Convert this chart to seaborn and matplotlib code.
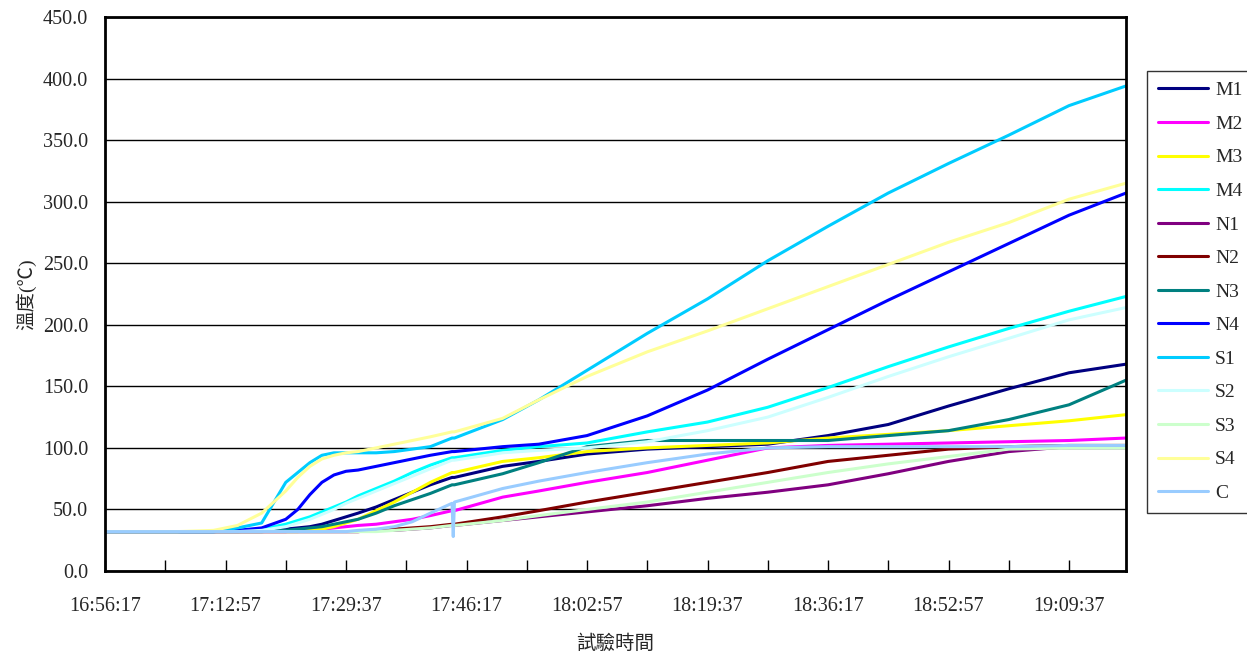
import numpy as np
import pandas as pd
import matplotlib
matplotlib.use('Agg')
import matplotlib.pyplot as plt
from matplotlib.ticker import MultipleLocator, FixedLocator, FixedFormatter
import seaborn as sns

sns.set_style('white')
plt.rcParams['font.family'] = ['Liberation Serif', 'Noto Sans CJK TC']

# seconds after 16:56:17
seconds = [0, 600, 900, 1100, 1300, 1500, 1600, 1700, 1800, 1900, 2000, 2100, 2250, 2400, 2550,
           2700, 2880, 2890, 2900, 3300, 3600, 4000, 4500, 5000, 5500, 6000, 6500, 7000, 7500,
           8000, 8473]

M1 = [32, 32, 32, 32, 33, 34, 35, 36, 38, 41, 44, 47, 52, 58, 64, 70, 76, 76, 76, 85, 89, 95,
      99, 101, 103, 110, 119, 134, 148, 161, 168]
M2 = [32, 32, 32, 32, 32, 32, 33, 33, 34, 35, 36, 37, 38, 40, 42, 45, 49, 49, 49, 60, 65, 72,
      80, 90, 100, 102, 103, 104, 105, 106, 108]
M3 = [32, 32, 32, 32, 32, 32, 32, 33, 34, 36, 39, 42, 49, 56, 64, 72, 80, 80, 80, 89, 92, 97,
      100, 102, 104, 108, 111, 114, 118, 122, 127]
M4 = [32, 32, 32, 33, 34, 38, 41, 44, 48, 52, 56, 61, 67, 73, 80, 86, 92, 92, 92, 98, 101, 104,
      113, 121, 133, 149, 166, 182, 197, 211, 223]
N1 = [32, 32, 32, 32, 32, 32, 32, 32, 32, 32, 32, 32, 33, 33, 34, 35, 37, 37, 37, 41, 44, 48,
      53, 59, 64, 70, 79, 89, 97, 101, 101]
N2 = [32, 32, 32, 32, 32, 32, 32, 32, 32, 32, 32, 32, 33, 34, 35, 36, 38, 38, 38, 44, 49, 56,
      64, 72, 80, 89, 94, 99, 101, 102, 102]
N3 = [32, 32, 32, 32, 32, 33, 34, 35, 36, 38, 40, 42, 47, 53, 58, 63, 70, 70, 70, 79, 88, 101,
      106, 106, 106, 106, 110, 114, 123, 135, 155]
N4 = [32, 32, 32, 33, 35, 42, 50, 62, 72, 78, 81, 82, 85, 88, 91, 94, 97, 97, 97, 101, 103, 110,
      126, 147, 172, 196, 220, 243, 266, 289, 307]
S1 = [32, 32, 32, 35, 39, 72, 80, 88, 94, 96, 96, 96, 96, 97, 99, 101, 108, 108, 108, 123, 139,
      163, 193, 221, 252, 280, 307, 331, 354, 378, 394]
S2 = [32, 32, 32, 32, 33, 36, 39, 42, 46, 50, 55, 59, 65, 71, 77, 83, 90, 90, 90, 96, 98, 100,
      105, 114, 125, 141, 158, 174, 189, 204, 214]
S3 = [32, 32, 32, 32, 32, 32, 32, 32, 32, 32, 32, 32, 32, 33, 34, 35, 37, 37, 37, 41, 45, 50,
      56, 64, 72, 80, 87, 93, 99, 100, 100]
S4 = [32, 32, 33, 37, 47, 65, 76, 85, 91, 94, 96, 97, 100, 103, 106, 109, 113, 113, 113, 124,
      139, 158, 178, 195, 213, 231, 249, 267, 283, 302, 315]
C = [32, 32, 32, 32, 32, 32, 32, 32, 32, 32, 32, 33, 34, 36, 40, 47, 55, 28, 56, 67, 73, 80,
     88, 95, 100, 101, 101, 101, 101, 102, 102]

names = ['M1', 'M2', 'M3', 'M4', 'N1', 'N2', 'N3', 'N4', 'S1', 'S2', 'S3', 'S4', 'C']
colors = ['#000080', '#FF00FF', '#FFFF00', '#00FFFF', '#800080', '#800000', '#008080',
          '#0000FF', '#00CCFF', '#CCFFFF', '#CCFFCC', '#FFFF99', '#99CCFF']
tick_labels = ['16:56:17', '17:12:57', '17:29:37', '17:46:17', '18:02:57',
               '18:19:37', '18:36:17', '18:52:57', '19:09:37']

wide = pd.DataFrame({'t': seconds, 'M1': M1, 'M2': M2, 'M3': M3, 'M4': M4, 'N1': N1, 'N2': N2,
                     'N3': N3, 'N4': N4, 'S1': S1, 'S2': S2, 'S3': S3, 'S4': S4, 'C': C})
df = wide.melt(id_vars='t', var_name='name', value_name='temp')

fig = plt.figure(figsize=(12.47, 6.55), dpi=100)
ax = fig.add_axes([105/1247, 1-571/655, (1126-105)/1247, (571-17)/655])

sns.lineplot(data=df, x='t', y='temp', hue='name', hue_order=names,
             palette=dict(zip(names, colors)), linewidth=2.2, estimator=None, ax=ax)

ax.set_xlim(0, 8473)
ax.set_ylim(0, 450)
ax.yaxis.set_major_locator(MultipleLocator(50))
ax.yaxis.set_major_formatter(matplotlib.ticker.FormatStrFormatter('%.1f'))
ax.xaxis.set_major_locator(FixedLocator([i*1000 for i in range(len(tick_labels))]))
ax.xaxis.set_major_formatter(FixedFormatter(tick_labels))
ax.xaxis.set_minor_locator(MultipleLocator(500))
ax.tick_params(axis='x', which='both', direction='in', length=8, width=1, color='black',
               bottom=True, pad=19, labelsize=14.5)
ax.tick_params(axis='y', length=0, pad=12, labelsize=14.5)

ax.yaxis.grid(True, color='black', linewidth=1)
ax.xaxis.grid(False)
ax.set_axisbelow(True)
for s in ax.spines.values():
    s.set_visible(True)
    s.set_color('black')
    s.set_linewidth(2)

ax.set_xlabel('試驗時間', fontsize=14, labelpad=13)
ax.set_ylabel('溫度(℃)', fontsize=14, labelpad=5)

handles, labels = ax.get_legend_handles_labels()
ax.legend(handles, labels, loc='upper left', bbox_to_anchor=(1147/1247, 1-71/655),
          bbox_transform=fig.transFigure, frameon=True, fancybox=False, edgecolor='black',
          fontsize=14, handlelength=2.6, handletextpad=0.35, labelspacing=0.82,
          borderpad=0.55, borderaxespad=0)
ax.get_legend().get_frame().set_linewidth(1)

fig.savefig('out.png', dpi=100)
